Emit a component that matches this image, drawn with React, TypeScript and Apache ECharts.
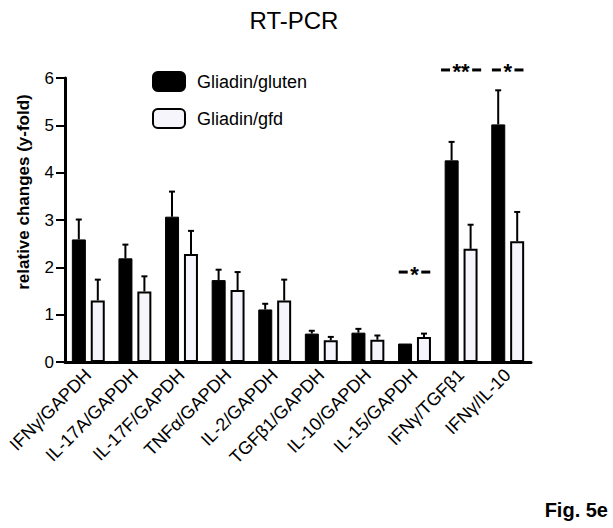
import React, { useEffect, useRef } from "react";
import * as echarts from "echarts";

const categories = [
  "IFNγ/GAPDH",
  "IL-17A/GAPDH",
  "IL-17F/GAPDH",
  "TNFα/GAPDH",
  "IL-2/GAPDH",
  "TGFβ1/GAPDH",
  "IL-10/GAPDH",
  "IL-15/GAPDH",
  "IFNγ/TGFβ1",
  "IFNγ/IL-10",
];
const glutenValues = [2.59, 2.19, 3.07, 1.73, 1.11, 0.6, 0.62, 0.39, 4.26, 5.02];
const glutenErrTop = [3.01, 2.48, 3.6, 1.95, 1.23, 0.66, 0.7, 0.39, 4.65, 5.74];
const gfdValues = [1.3, 1.49, 2.28, 1.52, 1.3, 0.46, 0.47, 0.53, 2.39, 2.55];
const gfdErrTop = [1.74, 1.81, 2.77, 1.9, 1.74, 0.53, 0.56, 0.6, 2.9, 3.17];
const yTicks = [0, 1, 2, 3, 4, 5, 6];
const annotCats = [7, 8, 9];
const annotValues = [1.9, 6.17, 6.17];
const annotStars = ["*", "**", "*"];

const FONT = "Arial, 'Liberation Sans', sans-serif";

export default function App() {
  const ref = useRef<HTMLDivElement>(null);
  useEffect(() => {
    if (!ref.current) return;
    const chart = echarts.init(ref.current, null, { renderer: "svg" });
    const half = 9.5;
    const errSeries = (vals: number[], tops: number[], dx: number, name: string) => ({
      type: "custom",
      name: name,
      z: 5,
      silent: true,
      data: vals.map((v, i) => [i, v, tops[i]]),
      renderItem: (params: any, api: any) => {
        const v = api.value(1);
        const t = api.value(2);
        if (t - v < 0.02) return { type: "group", children: [] };
        const p0 = api.coord([api.value(0), v]);
        const p1 = api.coord([api.value(0), t]);
        const x = p0[0] + dx;
        return {
          type: "group",
          children: [
            { type: "line", shape: { x1: x, y1: p0[1], x2: x, y2: p1[1] }, style: { stroke: "#000", lineWidth: 2 } },
            { type: "line", shape: { x1: x - 3, y1: p1[1], x2: x + 3, y2: p1[1] }, style: { stroke: "#000", lineWidth: 2 } },
          ],
        };
      },
    });
    const option: any = {
      animation: false,
      title: {
        text: "RT-PCR",
        left: 289,
        top: 3,
        textAlign: "center",
        textStyle: { fontFamily: FONT, fontSize: 24, fontWeight: "normal", color: "#000" },
      },
      legend: {
        orient: "vertical",
        left: 147,
        top: 66,
        itemWidth: 32,
        itemHeight: 19,
        itemGap: 16,
        data: ["Gliadin/gluten", "Gliadin/gfd"],
        textStyle: { fontFamily: FONT, fontSize: 18, color: "#000", padding: [0, 0, 0, 7] },
      },
      grid: { left: 65, right: 82, top: 78, bottom: 166 },
      xAxis: {
        type: "category",
        data: categories,
        axisLine: { lineStyle: { color: "#000", width: 3 } },
        axisTick: { alignWithLabel: true, length: 8, lineStyle: { color: "#000", width: 3 } },
        axisLabel: { rotate: 45, fontFamily: FONT, fontSize: 18, color: "#000", margin: 10 },
      },
      yAxis: {
        type: "value",
        min: yTicks[0],
        max: yTicks[yTicks.length - 1],
        interval: 1,
        splitLine: { show: false },
        axisLine: { show: true, lineStyle: { color: "#000", width: 3 } },
        axisTick: { show: true, length: 9, lineStyle: { color: "#000", width: 2 } },
        axisLabel: { fontFamily: FONT, fontSize: 17, color: "#000", margin: 11 },
      },
      graphic: [
        {
          type: "text",
          x: 23,
          y: 192,
          rotation: Math.PI / 2,
          style: {
            text: "relative changes (y-fold)",
            fontFamily: FONT,
            fontSize: 17,
            fontWeight: "bold",
            fill: "#000",
            align: "center",
            verticalAlign: "middle",
          },
        },
        {
          type: "text",
          x: 608,
          y: 510,
          style: {
            text: "Fig. 5e",
            fontFamily: FONT,
            fontSize: 20,
            fontWeight: "bold",
            fill: "#000",
            align: "right",
            verticalAlign: "middle",
          },
        },
      ],
      series: [
        {
          type: "bar",
          name: "Gliadin/gluten",
          data: glutenValues,
          barWidth: 14,
          barGap: "35%",
          itemStyle: { color: "#000", borderColor: "#000", borderWidth: 1 },
        },
        {
          type: "bar",
          name: "Gliadin/gfd",
          data: gfdValues,
          barWidth: 14,
          itemStyle: { color: "#f5f5fb", borderColor: "#000", borderWidth: 2 },
        },
        errSeries(glutenValues, glutenErrTop, -half, "errGluten"),
        errSeries(gfdValues, gfdErrTop, half, "errGfd"),
        {
          type: "custom",
          name: "annot",
          z: 6,
          silent: true,
          data: annotCats.map((c, i) => [c, annotValues[i]]),
          renderItem: (params: any, api: any) => {
            const p = api.coord([api.value(0), api.value(1)]);
            const stars = annotStars[params.dataIndex];
            const fs = 22;
            const starW = stars.length * 0.389 * fs;
            const dashL = 9;
            const gap = 2.5;
            const cx = p[0];
            const cy = p[1];
            const left = cx - starW / 2 - gap;
            const right = cx + starW / 2 + gap;
            return {
              type: "group",
              children: [
                { type: "line", shape: { x1: left - dashL, y1: cy, x2: left, y2: cy }, style: { stroke: "#000", lineWidth: 3 } },
                { type: "line", shape: { x1: right, y1: cy, x2: right + dashL, y2: cy }, style: { stroke: "#000", lineWidth: 3 } },
                {
                  type: "text",
                  x: cx,
                  y: cy + 0.09 * fs,
                  style: {
                    text: stars,
                    fontFamily: FONT,
                    fontSize: fs,
                    fontWeight: "bold",
                    fill: "#000",
                    align: "center",
                    verticalAlign: "middle",
                  },
                },
              ],
            };
          },
        },
      ],
    };
    chart.setOption(option);
    return () => chart.dispose();
  }, []);
  return (
    <div
      ref={ref}
      style={{ position: "absolute", left: 0, top: 0, width: 613, height: 528, background: "#fff" }}
    />
  );
}
